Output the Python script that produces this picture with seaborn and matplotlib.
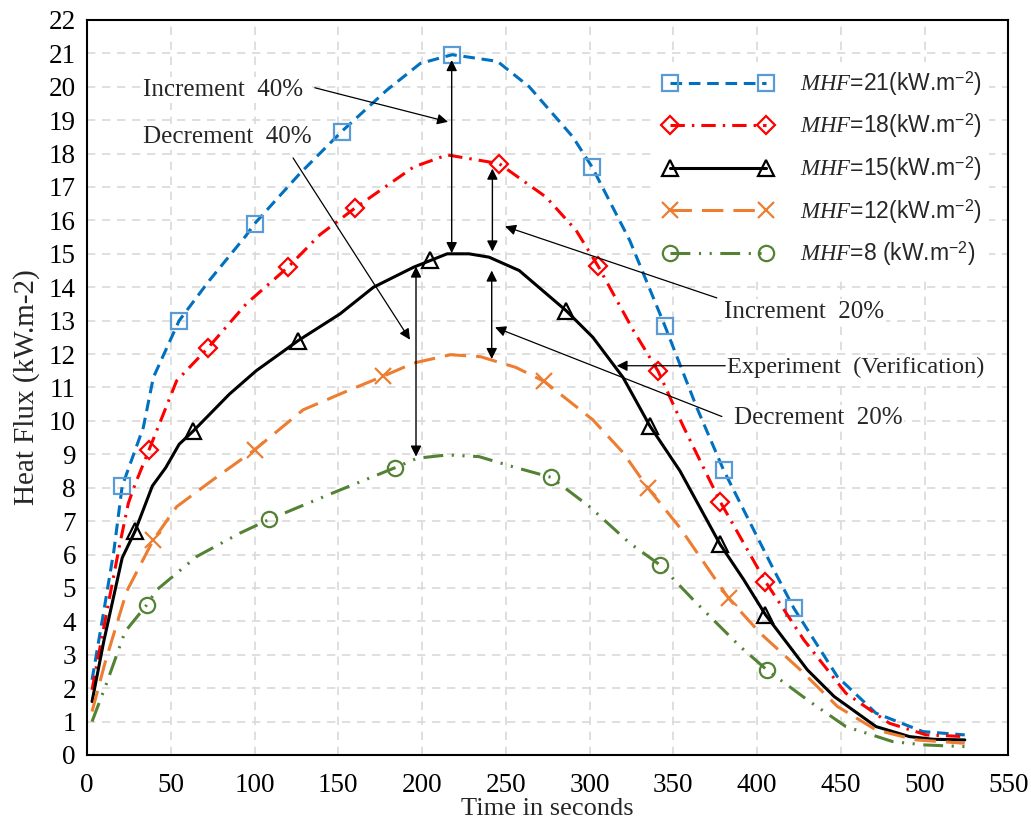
import matplotlib
matplotlib.use('Agg')
import matplotlib.pyplot as plt
import seaborn as sns
import pandas as pd

# ---------------- data ----------------
x21 = [3, 10, 16, 21, 33.6, 39.6, 55, 73, 95, 100, 127, 152, 179, 199, 218, 245, 264, 290, 301.5,
       324, 345, 364, 380, 410, 422, 448, 471, 499, 524]
y21 = [2.25, 4.3, 6.1, 8.05, 9.8, 11.3, 13.0, 14.2, 15.55, 15.9, 17.4, 18.66, 19.9, 20.7, 20.96,
       20.76, 20.0, 18.5, 17.6, 15.4, 12.84, 10.4, 8.53, 5.54, 4.39, 2.34, 1.25, 0.7, 0.6]
m21 = [3, 6, 9, 11, 14, 18, 20, 22, 24]

x18 = [3, 8.8, 19.3, 24.7, 28.7, 37, 53.5, 72, 95, 120, 139, 160, 195, 215, 246, 274, 292, 305,
       326, 341, 356, 378, 405, 428, 453, 479, 501, 524]
y18 = [1.95, 3.5, 6.24, 7.54, 8.1, 9.13, 11.2, 12.17, 13.5, 14.6, 15.57, 16.37, 17.6, 17.96, 17.7,
       16.7, 15.7, 14.64, 12.72, 11.48, 9.83, 7.58, 5.19, 3.44, 1.85, 0.95, 0.6, 0.55]
m18 = [5, 7, 9, 11, 14, 17, 19, 21, 22]

x15 = [3, 10, 21, 28.7, 39, 47, 55, 63.5, 85, 101, 126, 151, 171, 195, 205, 215, 228, 240, 258,
       286, 302, 320, 336, 354, 366, 378, 392, 405, 430, 446, 471, 491, 505, 524]
y15 = [1.6, 3.4, 5.9, 6.7, 8.05, 8.6, 9.3, 9.7, 10.8, 11.5, 12.4, 13.2, 14.0, 14.6, 14.8, 15.0,
       15.0, 14.9, 14.5, 13.3, 12.5, 11.3, 9.85, 8.5, 7.4, 6.3, 5.25, 4.2, 2.55, 1.75, 0.85, 0.55,
       0.47, 0.45]
m15 = [3, 7, 10, 14, 19, 22, 25, 27]

x12 = [3, 10.7, 23.7, 39.6, 53.5, 75, 100, 129, 157, 176.5, 195, 217, 235, 256, 273, 302, 320,
       335, 354, 374, 383, 402, 426, 448, 471, 495, 524]
y12 = [1.3, 2.75, 4.9, 6.44, 7.43, 8.23, 9.13, 10.33, 10.93, 11.33, 11.73, 11.98, 11.92, 11.6,
       11.18, 10.03, 9.05, 7.98, 6.8, 5.34, 4.69, 3.64, 2.54, 1.45, 0.75, 0.45, 0.35]
m12 = [3, 6, 9, 14, 17, 20]

x8 = [3, 11.7, 22.7, 35.6, 41.6, 65.5, 91.3, 108.8, 125, 151, 184, 197, 215, 234, 254, 277, 300,
      324, 342, 362, 390, 406, 430, 453, 481, 500, 524]
y8 = [1.0, 2.15, 3.69, 4.49, 4.94, 5.94, 6.64, 7.05, 7.39, 7.93, 8.6, 8.88, 8.98, 8.93, 8.63,
      8.31, 7.43, 6.34, 5.69, 4.64, 3.24, 2.54, 1.65, 0.85, 0.4, 0.3, 0.25]
m8 = [3, 7, 10, 15, 18, 21]

labels = [r'$\mathit{MHF}$=21(kW.m$^{-2}$)',
          r'$\mathit{MHF}$=18(kW.m$^{-2}$)',
          r'$\mathit{MHF}$=15(kW.m$^{-2}$)',
          r'$\mathit{MHF}$=12(kW.m$^{-2}$)',
          r'$\mathit{MHF}$=8 (kW.m$^{-2}$)']

xticks = list(range(0, 551, 50))
yticks = list(range(0, 23, 1))

# ---------------- style ----------------
sns.set_style('white')
plt.rcParams['font.family'] = ['Liberation Serif', 'DejaVu Serif']
plt.rcParams['mathtext.fontset'] = 'custom'
plt.rcParams['mathtext.it'] = 'Liberation Serif:italic'
plt.rcParams['mathtext.rm'] = 'Liberation Sans'

fig = plt.figure(figsize=(10.31, 8.31), dpi=100)
ax = fig.add_axes([0.0844, 0.0915, 0.978 - 0.0844, 0.976 - 0.0915])

series = [
    (x21, y21, m21, '#0070C0', '#5B9BD5', 's', 11, (3.8, 2.2)),
    (x18, y18, m18, '#FF0000', '#FF0000', 'D', 9, (4.7, 2.3, 0.8, 2.3)),
    (x15, y15, m15, '#000000', '#000000', '^', 11, None),
    (x12, y12, m12, '#ED7D31', '#ED7D31', 'x', 12, (7.0, 3.3)),
    (x8, y8, m8, '#548235', '#548235', 'o', 11, (6.5, 2.8, 0.7, 2.8, 0.7, 2.8)),
]

for (xs, ys, mk, col, mcol, marker, ms, dash), lab in zip(series, labels):
    df = pd.DataFrame({'t': xs, 'q': ys})
    sns.lineplot(data=df, x='t', y='q', ax=ax, sort=False, estimator=None,
                 color=col, lw=2.2, marker=marker, markevery=mk, markersize=ms,
                 markerfacecolor='none', markeredgecolor=mcol, markeredgewidth=1.6,
                 label=lab)
    line = ax.lines[-1]
    if dash is not None:
        line.set_dashes(dash)

ax.set_xlim(0, 550)
ax.set_ylim(0, 22)
ax.set_xticks(xticks)
ax.set_yticks(yticks)
ax.tick_params(axis='both', direction='in', length=6, width=1.3, labelsize=19.5, colors='black')
ax.tick_params(axis='x', pad=13)
ax.tick_params(axis='y', pad=8)
ax.grid(True, color='#D9D9D9', linestyle=(0, (5, 4)), lw=1.2)
ax.set_axisbelow(True)
for s in ax.spines.values():
    s.set_visible(True)
    s.set_color('black')
    s.set_linewidth(1.5)

ax.set_xlabel('Time in seconds', fontsize=19, labelpad=0)
ax.set_ylabel('Heat Flux (kW.m-2)', fontsize=21, labelpad=6)

leg = ax.legend(loc='upper left', bbox_to_anchor=(0.605, 0.958), numpoints=2,
                handlelength=4.8, handletextpad=1.2, labelspacing=0.6, borderpad=0.3,
                frameon=True, fancybox=False, framealpha=1, edgecolor='none',
                prop={'family': 'Liberation Sans', 'size': 16.5})

# ---------------- annotations ----------------
tb = dict(facecolor='white', edgecolor='none', pad=1.5)
ax.text(33.4, 19.9, 'Increment  40%', fontsize=18, va='center', ha='left', bbox=tb)
ax.text(33.4, 18.5, 'Decrement  40%', fontsize=18, va='center', ha='left', bbox=tb)
ax.text(380, 13.25, 'Increment  20%', fontsize=18, va='center', ha='left', bbox=tb)
ax.text(382, 11.6, 'Experiment  (Verification)', fontsize=17.6, va='center', ha='left', bbox=tb)
ax.text(386, 10.1, 'Decrement  20%', fontsize=18, va='center', ha='left', bbox=tb)

one = dict(arrowstyle='-|>', color='black', lw=0.9, mutation_scale=16, shrinkA=0, shrinkB=0)
two = dict(arrowstyle='<|-|>', color='black', lw=1.0, mutation_scale=16, shrinkA=0, shrinkB=0)

ax.annotate('', xy=(215.5, 18.95), xytext=(136, 19.97), arrowprops=one)
ax.annotate('', xy=(192.8, 12.43), xytext=(123, 17.87), arrowprops=one)
ax.annotate('', xy=(249.6, 15.82), xytext=(376, 13.68), arrowprops=one)
ax.annotate('', xy=(316.2, 11.65), xytext=(381, 11.65), arrowprops=one)
ax.annotate('', xy=(243.6, 12.8), xytext=(379, 10.13), arrowprops=one)

ax.annotate('', xy=(217.7, 20.8), xytext=(217.7, 15.02), arrowprops=two)
ax.annotate('', xy=(242, 17.55), xytext=(242, 15.07), arrowprops=two)
ax.annotate('', xy=(241.6, 14.5), xytext=(241.6, 11.85), arrowprops=two)
ax.annotate('', xy=(196.4, 14.62), xytext=(196.4, 8.93), arrowprops=two)

fig.savefig('out.png', dpi=100)
